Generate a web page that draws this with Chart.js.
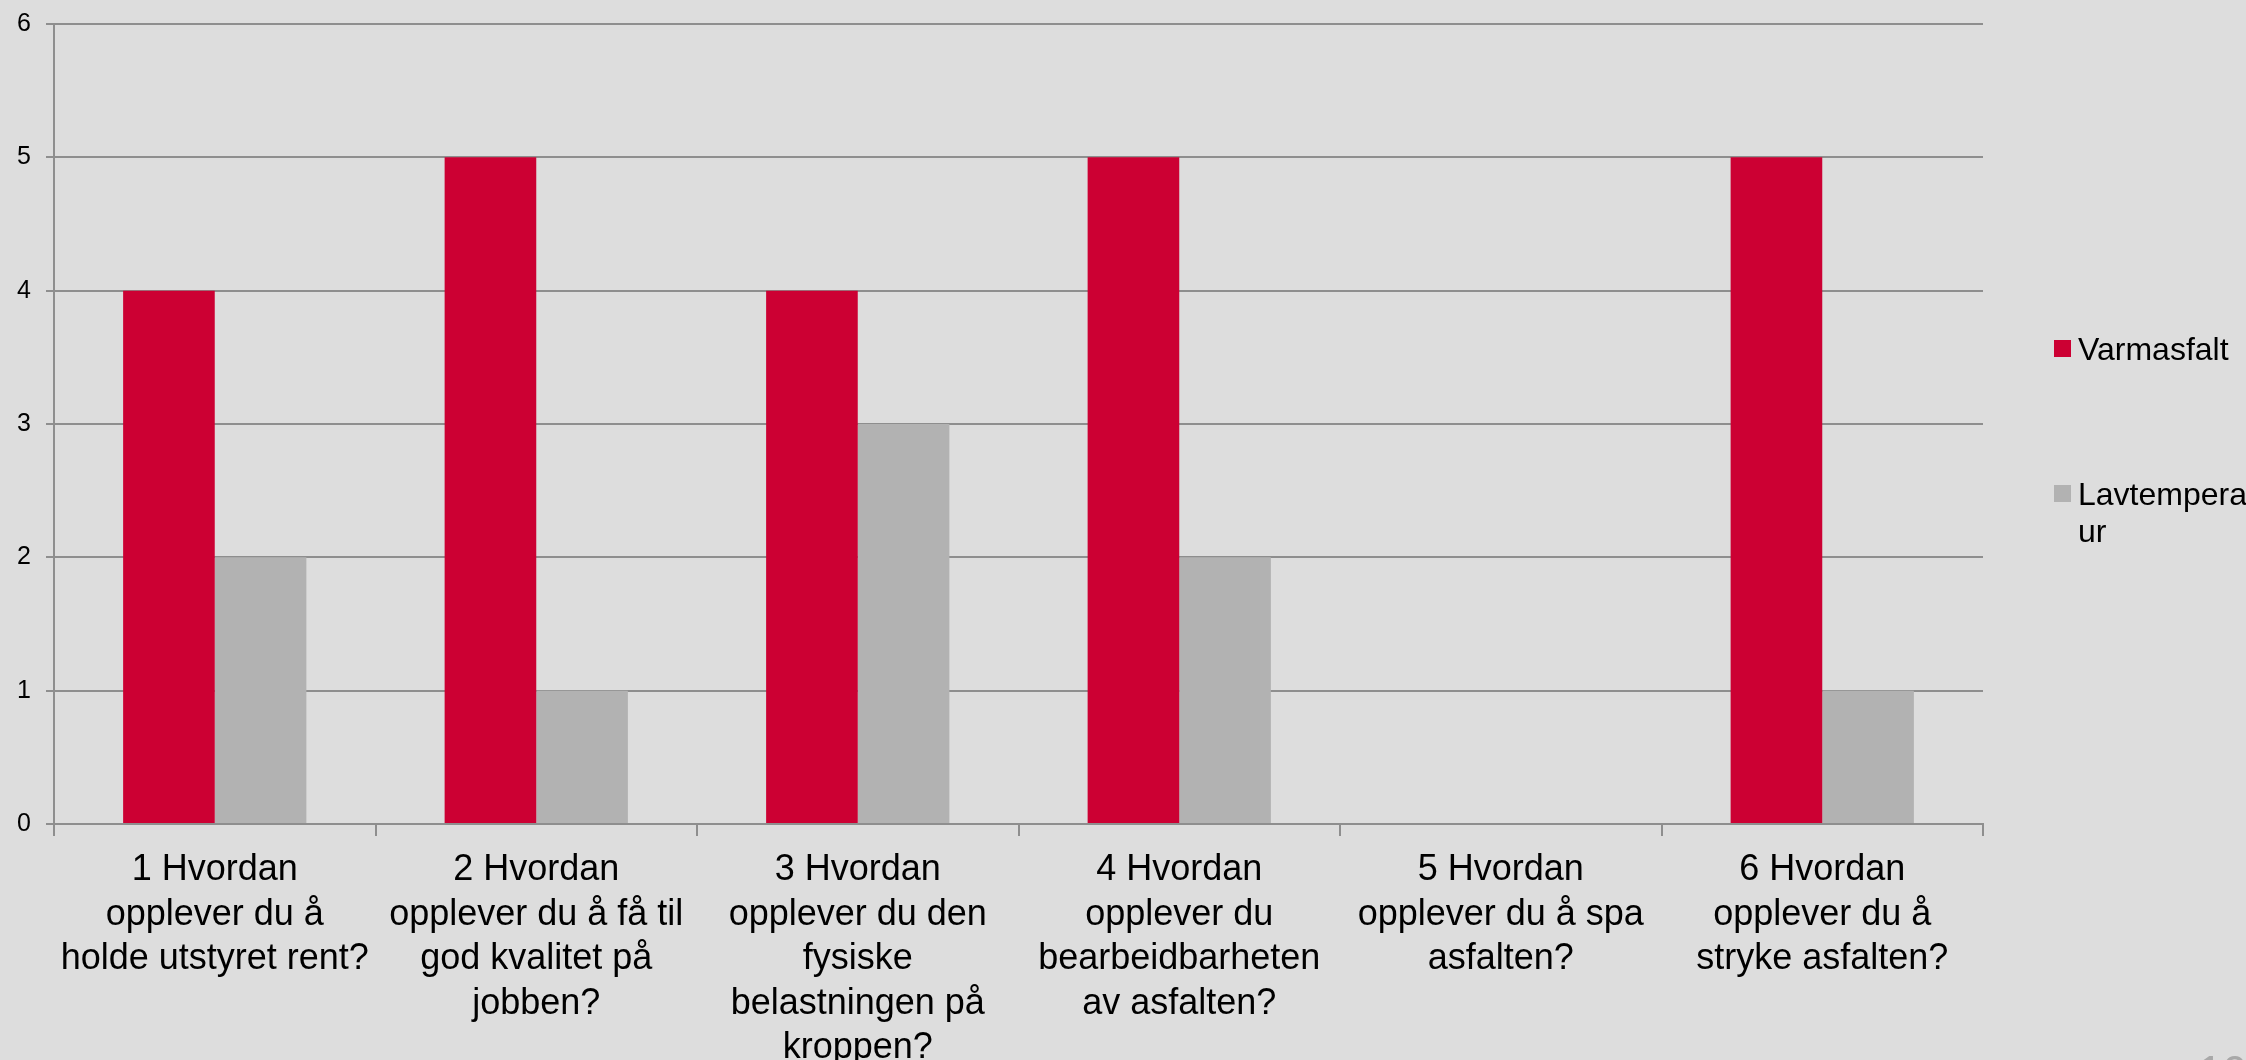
<!DOCTYPE html>
<html>
<head>
<meta charset="utf-8">
<script src="https://cdn.jsdelivr.net/npm/chart.js@4.4.1/dist/chart.umd.min.js"></script>
<style>
  html, body { margin: 0; padding: 0; background: #dddddd; }
  #wrap { width: 2246px; height: 1060px; position: relative; }
</style>
</head>
<body>
<div id="wrap"><canvas id="surveyChart" width="2246" height="1060"></canvas></div>
<script>
const categories = [
  ['1 Hvordan', 'opplever du å', 'holde utstyret rent?'],
  ['2 Hvordan', 'opplever du å få til', 'god kvalitet på', 'jobben?'],
  ['3 Hvordan', 'opplever du den', 'fysiske', 'belastningen på', 'kroppen?'],
  ['4 Hvordan', 'opplever du', 'bearbeidbarheten', 'av asfalten?'],
  ['5 Hvordan', 'opplever du å spa', 'asfalten?'],
  ['6 Hvordan', 'opplever du å', 'stryke asfalten?']
];
const varmasfalt = [4, 5, 4, 5, 0, 5];
const lavtemperatur = [2, 1, 3, 2, 0, 1];
const seriesNames = ['Varmasfalt', 'Lavtemperatur'];
const yTicks = [0, 1, 2, 3, 4, 5, 6];

const gridColor = '#8e8e8e';
const font = 'Liberation Sans, Arial, Helvetica, sans-serif';

// legend drawn by hand so the long name wraps the same way as the original
const sideLegend = {
  id: 'sideLegend',
  afterDraw(chart) {
    const ctx = chart.ctx;
    ctx.save();
    ctx.font = '32px ' + font;
    ctx.textBaseline = 'alphabetic';
    const x = 2054;
    const rows = [340, 485];
    chart.data.datasets.forEach((ds, i) => {
      const y = rows[i];
      ctx.fillStyle = ds.backgroundColor;
      ctx.fillRect(x, y, 17, 17);
      ctx.fillStyle = '#000';
      if (ds.label === 'Lavtemperatur') {
        ctx.fillText('Lavtemperat', x + 24, y + 20);
        ctx.fillText('ur', x + 24, y + 57);
      } else {
        ctx.fillText(ds.label, x + 24, y + 20);
      }
    });
    // slide number peeking in at the corner
    ctx.fillStyle = '#a8a8a8';
    ctx.font = '44px ' + font;
    ctx.textBaseline = 'top';
    ctx.fillText('10', 2198, 1053);
    ctx.restore();
  }
};

new Chart(document.getElementById('surveyChart').getContext('2d'), {
  type: 'bar',
  data: {
    labels: categories,
    datasets: [
      { label: seriesNames[0], data: varmasfalt, backgroundColor: '#cc0033' },
      { label: seriesNames[1], data: lavtemperatur, backgroundColor: '#b2b2b2' }
    ]
  },
  options: {
    responsive: false,
    animation: false,
    layout: { padding: { top: 24, right: 263, left: 0, bottom: 0 } },
    categoryPercentage: 0.57,
    barPercentage: 1.0,
    plugins: { legend: { display: false }, tooltip: { enabled: false } },
    scales: {
      x: {
        grid: {
          offset: true,
          drawOnChartArea: false,
          drawTicks: true,
          tickLength: 12,
          color: gridColor,
          lineWidth: 2
        },
        border: { color: gridColor, width: 2 },
        ticks: {
          autoSkip: false,
          maxRotation: 0,
          minRotation: 0,
          padding: 12,
          color: '#000',
          font: { family: font, size: 36, lineHeight: 44.5 / 36 }
        },
        afterFit(s) { s.height = 236; s.paddingLeft = 0; s.paddingRight = 0; }
      },
      y: {
        min: 0,
        max: 6,
        afterBuildTicks(s) { s.ticks = yTicks.map(v => ({ value: v })); },
        grid: { color: gridColor, lineWidth: 2, tickLength: 8, drawTicks: true },
        border: { color: gridColor, width: 2 },
        ticks: {
          padding: 15,
          color: '#000',
          font: { family: font, size: 25 }
        },
        afterFit(s) { s.width = 54; s.paddingTop = 0; s.paddingBottom = 0; }
      }
    }
  },
  plugins: [sideLegend]
});
</script>
</body>
</html>
